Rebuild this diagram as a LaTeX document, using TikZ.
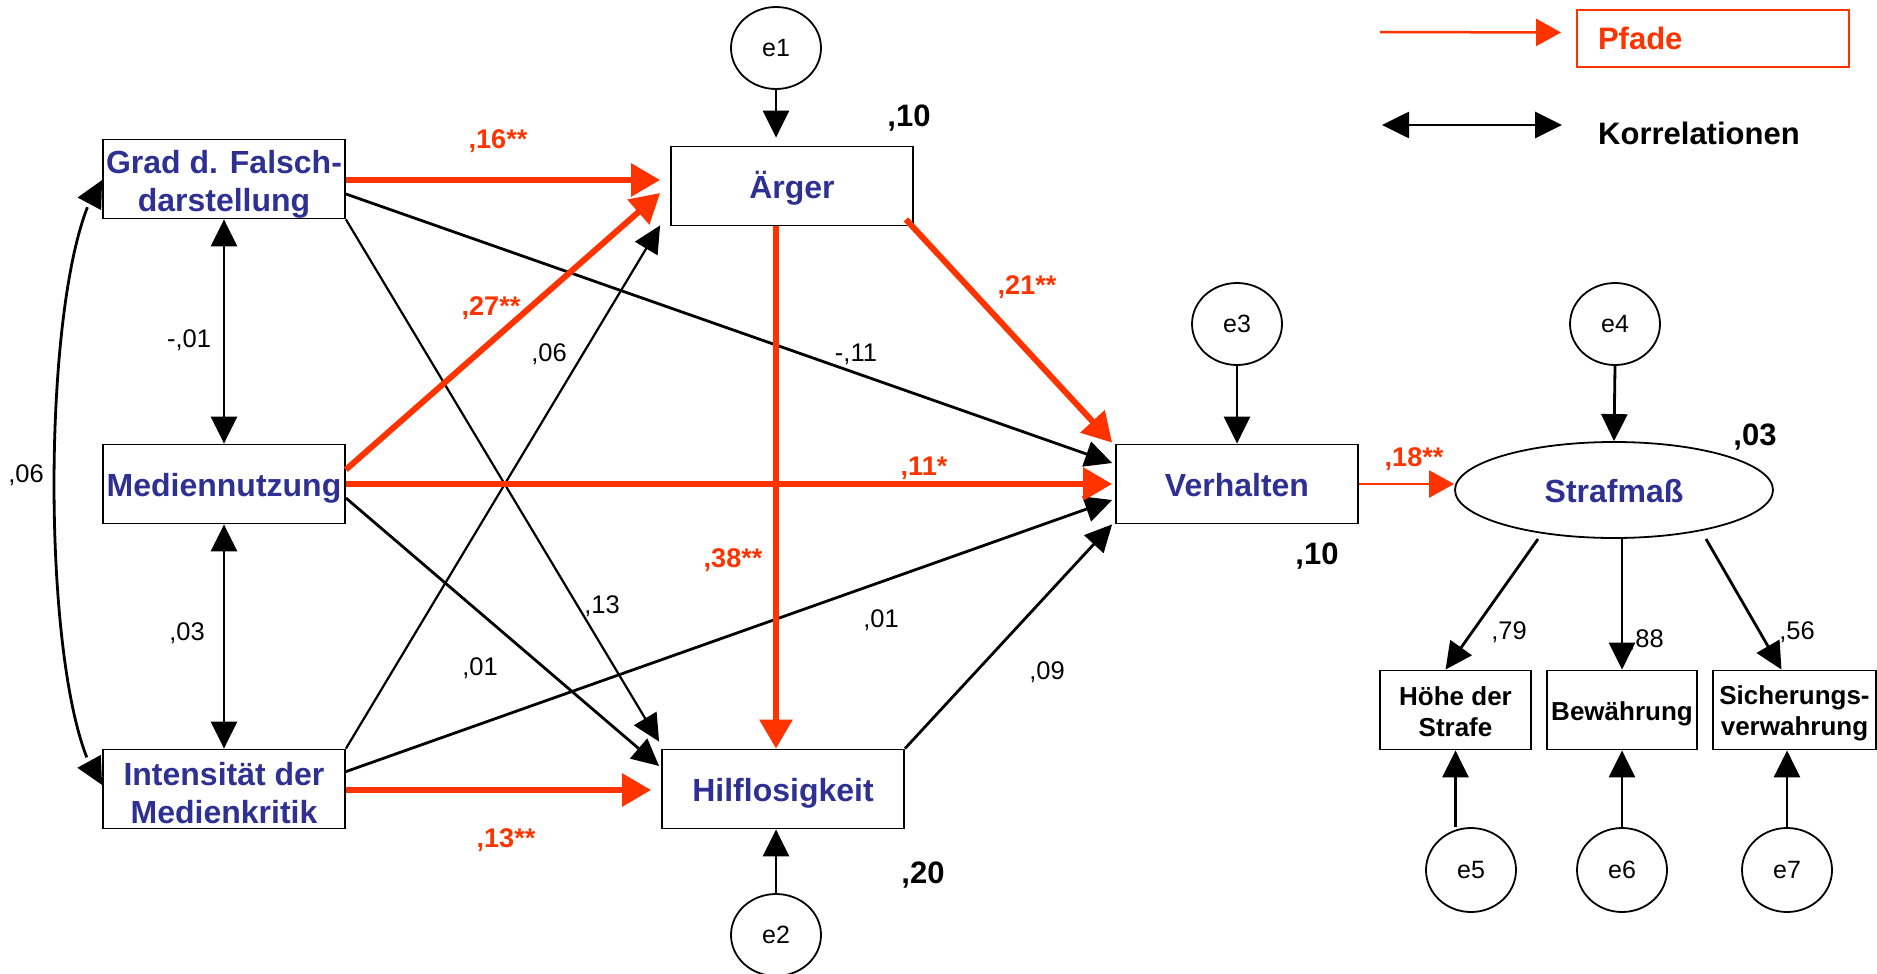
\documentclass[tikz,border=0pt]{standalone}
\usepackage{fontspec}
\setmainfont{Liberation Sans}
\usetikzlibrary{arrows.meta,calc,shapes.geometric,bending}
\definecolor{pblue}{RGB}{46,49,146}
\definecolor{pred}{RGB}{255,51,0}
\begin{document}
\begin{tikzpicture}[x=1pt,y=-1pt,
  boxbase/.style={draw=black, line width=1.8pt, minimum width=242pt, minimum height=79pt, inner sep=0pt, align=center, font=\fontsize{32}{38}\selectfont\bfseries, text=pblue},
  box/.style={boxbase, text height=27pt, text depth=2pt},
  box2/.style={boxbase},
  ind/.style={draw=black, line width=1.8pt, minimum height=79pt, inner sep=0pt, align=center, font=\fontsize{26}{31}\selectfont\bfseries},
  err/.style={draw=black, line width=1.8pt, ellipse, minimum width=90pt, minimum height=82pt, inner sep=0pt, font=\fontsize{25}{30}\selectfont},
  blk/.style={draw=black, line width=2.8pt, -{Triangle[length=27pt,width=26pt]}},
  thinblk/.style={blk, line width=2.2pt},
  bidir/.style={draw=black, line width=2.8pt, {Triangle[length=27pt,width=26pt]}-{Triangle[length=27pt,width=26pt]}},
  redp/.style={draw=pred, line width=6pt, -{Triangle[length=29pt,width=32pt]}},
  redt/.style={draw=pred, line width=2.5pt, -{Triangle[length=25pt,width=27pt]}},
  rc/.style={text=pred, font=\fontsize{27}{32}\selectfont\bfseries, inner sep=0pt},
  bc/.style={font=\fontsize{25.5}{30}\selectfont, inner sep=0pt},
  r2/.style={font=\fontsize{31}{36}\selectfont\bfseries, inner sep=0pt},
]
\useasboundingbox (0,0) rectangle (1877,974);

% main boxes
\node[box2] (G) at (224,179) {\rule{0pt}{33pt}Grad d. Falsch-\\darstellung};
\node[box] (M) at (224,484) {Mediennutzung};
\node[box2] (I) at (224,789) {\rule{0pt}{31pt}Intensität der\\Medienkritik};
\node[box] (A) at (792,186) {Ärger};
\node[box] (H) at (783,789) {Hilflosigkeit};
\node[box] (V) at (1237,484) {Verhalten};
\node[draw=black, line width=1.8pt, ellipse, minimum width=318pt, minimum height=96pt, inner sep=0pt, font=\fontsize{32}{38}\selectfont\bfseries, text=pblue, text height=27pt, text depth=2pt] (S) at (1614,490) {Strafmaß};

% indicators
\node[ind, minimum width=151pt] (HS) at (1455.5,710) {\rule{0pt}{23pt}Höhe der\\Strafe};
\node[ind, minimum width=150pt, text height=21pt, text depth=1pt] (BW) at (1622,710) {Bewährung};
\node[ind, minimum width=163pt] (SV) at (1794.5,710) {\rule{0pt}{26pt}Sicherungs-\\verwahrung};

% error terms
\node[err] (e1) at (776,48) {e1};
\node[err] (e2) at (776,935) {e2};
\node[err] (e3) at (1237,324) {e3};
\node[err] (e4) at (1615,324) {e4};
\node[err, minimum height=84pt] (e5) at (1471,870) {e5};
\node[err, minimum height=84pt] (e6) at (1622,870) {e6};
\node[err, minimum height=84pt] (e7) at (1787,870) {e7};

% correlations
\draw[bidir] (G.south) -- (M.north);
\draw[bidir] (M.south) -- (I.north);
\draw[bidir] ($(G.west)+(0,1)$) .. controls (38,260) and (38,710) .. ($(I.west)+(0,-4)$);

% black paths
\draw[thinblk] (I.north east) -- ($(A.south west)+(-10,-1)$);
\draw[blk] ($(G.east)+(0,15)$) -- ($(V.west)+(-3,-21)$);
\draw[blk] ($(I.north east)+(0,23)$) -- ($(V.west)+(-3,16)$);
\draw[blk] (H.north east) -- ($(V.south west)+(-3,0)$);
\draw[thinblk] (G.south east) -- ($(H.north west)+(-2,-7)$);
\draw[blk] ($(M.east)+(0,14)$) -- ($(H.west)+(-2,-23)$);

% red paths
\draw[redp] ($(G.east)+(0,1)$) -- ($(A.west)+(-10,-6)$);
\draw[redp] ($(M.north east)+(0,26)$) -- ($(A.west)+(-10,7)$);
\draw[redp] ($(A.south east)+(-8,-7)$) -- ($(V.north west)+(-3,-1)$);
\draw[redp] (M.east) -- ($(V.west)+(-3,0)$);
\draw[redp] ($(I.east)+(0,1)$) -- ($(H.west)+(-10,1)$);
\draw[redp] ($(A.south)+(-16,0)$) -- ($(H.north)+(-7,0)$);
\draw[redt] (V.east) -- (V.east -| S.west);

% error arrows
\draw[blk] (e1.south) -- ($(A.north)+(-16,-8)$);
\draw[blk] (e2.north) -- ($(H.south)+(-7,0)$);
\draw[blk] (e3.south) -- (V.north);
\draw[blk] (e4.south) -- (S.north);
\draw[blk] (HS.south |- e5.north) -- (HS.south);
\draw[blk] (e6.north) -- (BW.south);
\draw[blk] (e7.north) -- (e7.north |- SV.south);

% loadings
\draw[blk] ($(S.center)+(-76,49)$) -- ($(HS.north)+(-10,0)$);
\draw[blk] (BW.north |- S.south) -- (BW.north);
\draw[blk] ($(S.center)+(92,49)$) -- ($(SV.north)+(-13,0)$);

% coefficient labels
\node[rc] (c16) at (498,141) {,16**};
\node[rc] (c27) at (491,308) {,27**};
\node[rc] (c21) at (1027,287) {,21**};
\node[rc] (c11) at (924,468) {,11*};
\node[rc] (c38) at (733,560) {,38**};
\node[rc] (c13r) at (506,840) {,13**};
\node[rc] (c18) at (1414,459) {,18**};
\node[bc] (c06a) at (549,354) {,06};
\node[bc] (cm11) at (856,354) {-,11};
\node[bc] (c13) at (602,606) {,13};
\node[bc] (c01a) at (881,620) {,01};
\node[bc] (c01b) at (480,668) {,01};
\node[bc] (c09) at (1047,672) {,09};
\node[bc] (cm01) at (189,340) {-,01};
\node[bc] (c03) at (187,633) {,03};
\node[bc] (c06b) at (26,475) {,06};
\node[bc] (c79) at (1509,632) {,79};
\node[bc] (c88) at (1646,640) {,88};
\node[bc] (c56) at (1797,632) {,56};

% R squared
\node[r2] (rA) at (909,118) {,10};
\node[r2] (rH) at (923,875) {,20};
\node[r2] (rV) at (1317,556) {,10};
\node[r2] (rS) at (1755,437) {,03};

% legend
\node[draw=pred, line width=1.8pt, minimum width=272pt, minimum height=57pt, text width=230pt, inner xsep=21pt, inner ysep=0pt, align=left, text=pred, font=\fontsize{31}{36}\selectfont\bfseries] (pfade) at (1713,38.5) {Pfade};
\coordinate (lpa) at (1380,32);
\draw[redt] (lpa) -- ($(pfade.west)+(-15,-6)$);
\node[anchor=west, inner sep=0pt, font=\fontsize{31}{36}\selectfont\bfseries] (korr) at (1598,133) {Korrelationen};
\coordinate (lka) at (1382,125);
\coordinate (lkb) at (1562,125);
\draw[bidir] (lka) -- (lkb);
\end{tikzpicture}
\end{document}
